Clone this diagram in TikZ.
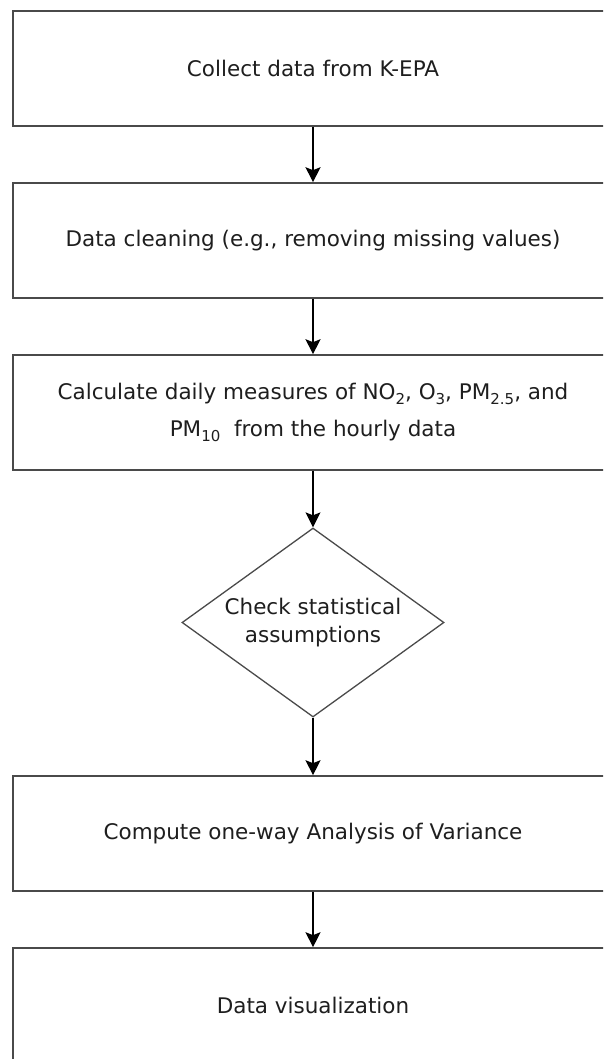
\documentclass[tikz,border=0pt]{standalone}
\usepackage{fontspec}
\setmainfont{DejaVu Sans}
\usetikzlibrary{shapes.geometric,arrows.meta}
\definecolor{rand}{HTML}{4A4A4A}
\definecolor{schrift}{HTML}{1E1E1E}
\newcommand{\unten}[1]{\raisebox{-5pt}{\fontsize{15}{15}\selectfont #1}}
\tikzset{
  block/.style={draw=rand, line width=1.6pt, minimum width=600pt, minimum height=115pt, inner sep=0pt, align=center, text=schrift},
  rhomb/.style={diamond, draw=rand, line width=1.3pt, minimum width=262pt, minimum height=189pt, aspect=1.386, inner sep=0pt, align=center, text=schrift},
  arr/.style={line width=1.3pt, -{Stealth[length=15pt,width=15pt,inset=3pt]}}
}
\begin{document}
\begin{tikzpicture}[x=1pt, y=1pt, font=\fontsize{21.5}{28}\selectfont]
    \useasboundingbox (0,0) rectangle (603,-1059);
    \clip (0,0) rectangle (603,-1059);
    % Блоки
    \node[block] (collect) at (313,-68.5) {Collect data from K-EPA};
    \node[block] (clean) at (313,-240.5) {Data cleaning (e.g., removing missing values)};
    \node[block] (daily) at (313,-412.5) {Calculate daily measures of NO\unten{2}, O\unten{3}, PM\unten{2.5}, and\\[9pt] PM\unten{10}\ \ from the hourly data};
    \node[rhomb] (check) at (313,-622.5) {Check statistical\\assumptions};
    \node[block] (anova) at (313,-833.5) {Compute one-way Analysis of Variance};
    \node[block] (visual) at (313,-1005.5) {Data visualization};
    % Стрелки
    \foreach \a/\b in {collect/clean, clean/daily, daily/check, check/anova, anova/visual}
        \draw[arr] (\a) -- (\b);
\end{tikzpicture}
\end{document}
